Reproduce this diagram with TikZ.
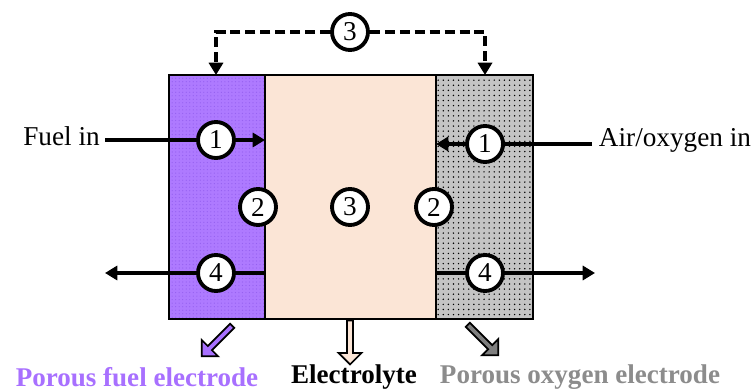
\documentclass[tikz,border=0pt]{standalone}
\usepackage{fontspec}
\setmainfont{Liberation Serif}
\usetikzlibrary{positioning}
\usetikzlibrary{patterns.meta}
\usetikzlibrary{shapes.arrows}
\usetikzlibrary{arrows.meta}
\definecolor{fuelpurple}{HTML}{AE7AFF}
\definecolor{fuellabel}{HTML}{A870FF}
\definecolor{fueldots}{HTML}{9560F0}
\definecolor{peach}{HTML}{FBE5D6}
\definecolor{oxygray}{HTML}{C4C4C4}
\definecolor{oxylabel}{HTML}{8C8C8C}
\definecolor{oxyarrow}{HTML}{7F7F7F}
\tikzset{
	cell/.style={draw=black,line width=1.1pt,inner sep=0pt,outer sep=0pt,minimum height=4.88cm},
	step num/.style={circle,draw=black,fill=white,line width=2.2pt,inner sep=0pt,minimum size=0.72cm,font=\fontsize{15.5}{15.5}\selectfont},
	flow/.style={line width=2pt,-{Triangle[length=7pt,width=8pt]}},
	feed/.style={line width=2.2pt},
	crossover/.style={line width=2.2pt,dash pattern=on 5.7pt off 2.8pt,-{Triangle[length=7pt,width=8pt]}},
	callout/.style={single arrow,draw=black,line width=1pt,inner sep=0pt,minimum width=0.46cm,single arrow head extend=0.05cm,single arrow tip angle=90},
	side label/.style={font=\fontsize{15.5}{15.5}\selectfont},
	part label/.style={font=\fontsize{15.4}{15.4}\selectfont\bfseries}
}
\begin{document}
\begin{tikzpicture}[x=0.02cm,y=-0.02cm]
	\useasboundingbox (0,0) rectangle (753,391);

	% cell layers
	\node[cell,minimum width=1.92cm,preaction={fill=fuelpurple},pattern={Dots[distance=2pt,radius=0.35pt]},pattern color=fueldots] (anode) at (217,197) {};
	\node[cell,minimum width=3.42cm,fill=peach,right=0pt of anode] (electrolyte) {};
	\node[cell,minimum width=1.94cm,preaction={fill=oxygray},pattern={Dots[distance=2.9pt,radius=0.45pt]},pattern color=black,right=0pt of electrolyte] (cathode) {};

	% numbered steps
	\node[step num] (fuel1) at (216,140) {1};
	\node[step num] (air1) at (485,144) {1};
	\node[step num] (fuel2) at (258,207) {2};
	\node[step num] (air2) at (434,207) {2};
	\node[step num] (bulk3) at (350,207) {3};
	\node[step num] (top3) at (350,32) {3};
	\node[step num] (fuel4) at (216,273) {4};
	\node[step num] (air4) at (485,273) {4};

	% side texts
	\node[side label] (fuelin) at (61.5,136) {Fuel in};
	\node[side label] (airin) at (675,140) {Air/oxygen in};
	\coordinate (fuelstart) at (105,140);
	\coordinate (airstart) at (592,144);
	\coordinate (fuelout) at (105,273);
	\coordinate (airout) at (595,273);
	\coordinate (dashleft) at (216,32);
	\coordinate (dashright) at (485,32);

	\draw[feed] (fuelstart) -- (fuel1);
	\draw[flow] (fuel1) -- (fuel1 -| anode.east);
	\draw[feed] (airstart) -- (air1);
	\draw[flow] (air1) -- (air1 -| cathode.west);
	\draw[flow] (fuel4 -| anode.east) -- (fuel4) (fuel4) -- (fuelout);
	\draw[flow] (air4 -| cathode.west) -- (air4) (air4) -- (airout);
	\draw[crossover] (top3) -- (dashleft) -- (dashleft |- anode.north);
	\draw[crossover] (top3) -- (dashright) -- (dashright |- cathode.north);

	% part arrows and names
	\node[callout,fill=fuellabel,minimum height=0.86cm,rotate=-135] (fuelarrow) at (218,340) {};
	\node[callout,fill=peach,minimum height=0.88cm,rotate=-90] (elecarrow) at (350,341) {};
	\node[callout,fill=oxyarrow,minimum height=0.86cm,rotate=-45] (oxyarrow) at (482,339) {};
	\node[part label,text=fuellabel] (fuelname) at (137,377.5) {Porous fuel electrode};
	\node[part label] (elecname) at (354,377.5) {Electrolyte};
	\node[part label,text=oxylabel] (oxyname) at (580,377.5) {Porous oxygen electrode};
\end{tikzpicture}
\end{document}
